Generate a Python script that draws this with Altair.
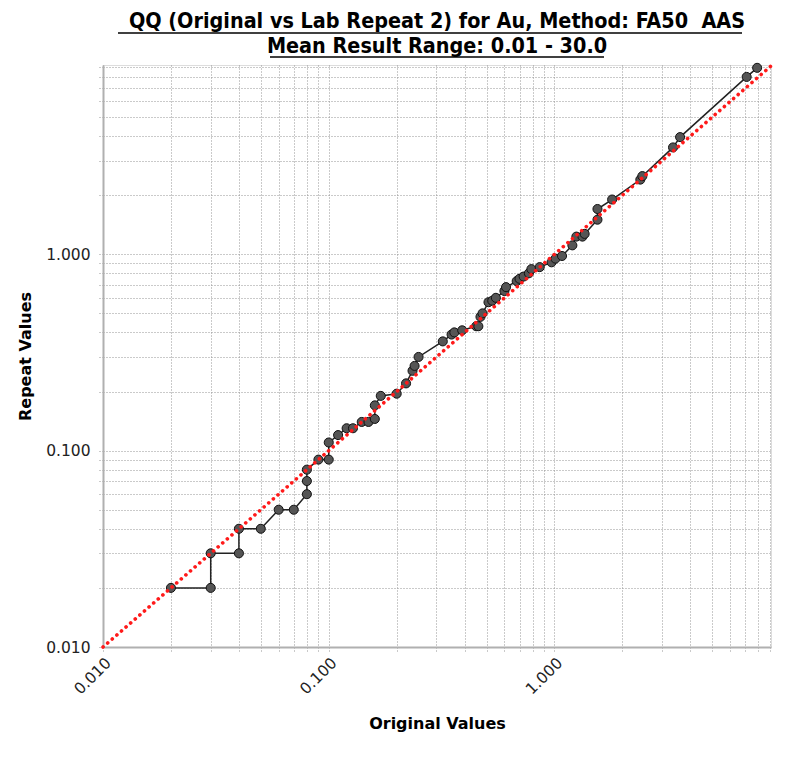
import altair as alt
import pandas as pd

# Quantile pairs (sorted Original vs sorted Repeat)
original = [0.02, 0.03, 0.03, 0.04, 0.04, 0.05, 0.06, 0.07, 0.08, 0.08,
            0.08, 0.09, 0.10, 0.10, 0.11, 0.12, 0.128, 0.14, 0.15, 0.16,
            0.16, 0.17, 0.20, 0.22, 0.235, 0.24, 0.25, 0.32, 0.35, 0.36,
            0.39, 0.45, 0.46, 0.47, 0.48, 0.51, 0.53, 0.55, 0.60, 0.61,
            0.68, 0.70, 0.73, 0.77, 0.79, 0.86, 0.97, 1.01, 1.08, 1.20,
            1.25, 1.33, 1.36, 1.55, 1.55, 1.80, 2.40, 2.45, 3.35, 3.60,
            7.10, 7.90]
repeat = [0.02, 0.02, 0.03, 0.03, 0.04, 0.04, 0.05, 0.05, 0.06, 0.07,
          0.08, 0.09, 0.09, 0.11, 0.12, 0.13, 0.13, 0.14, 0.14, 0.145,
          0.17, 0.19, 0.195, 0.22, 0.255, 0.27, 0.30, 0.36, 0.39, 0.40,
          0.41, 0.43, 0.43, 0.48, 0.50, 0.57, 0.58, 0.60, 0.65, 0.68,
          0.73, 0.75, 0.77, 0.80, 0.84, 0.86, 0.91, 0.95, 0.98, 1.11,
          1.23, 1.23, 1.27, 1.50, 1.70, 1.90, 2.40, 2.50, 3.50, 3.95,
          8.00, 8.90]

tick_values = [0.01, 0.02, 0.03, 0.04, 0.05, 0.06, 0.07, 0.08, 0.09,
               0.1, 0.2, 0.3, 0.4, 0.5, 0.6, 0.7, 0.8, 0.9,
               1, 2, 3, 4, 5, 6, 7, 8, 9]
label_values = [0.01, 0.1, 1]
x_domain = [0.01, 9.1]
y_domain = [0.01, 9.2]
ref_line = [0.01, 9.1]

title_lines = ["QQ (Original vs Lab Repeat 2) for Au, Method: FA50\u00a0 AAS",
               "Mean Result Range: 0.01 - 30.0"]

df = pd.DataFrame({"idx": list(range(len(original))),
                   "Original": original, "Repeat": repeat})
ref_df = pd.DataFrame({"Original": ref_line, "Repeat": ref_line})

label_expr = " || ".join(f"datum.value == {v}" for v in label_values)
label_expr = f"({label_expr}) ? format(datum.value, '.3f') : ''"

FONT = "DejaVu Sans"
TFONT = "DejaVu Sans Condensed, DejaVu Sans"

xaxis = alt.Axis(values=tick_values, labelExpr=label_expr, labelAngle=-45,
                 labelOverlap=False, labelFont=FONT, labelFontSize=15.5,
                 labelColor="#222", labelPadding=2,
                 grid=True, gridColor="#959595", gridDash=[1, 2], gridWidth=1,
                 ticks=True, tickColor="#959595", tickDash=[1, 2], tickSize=6,
                 domainColor="#b0b0b0", domainWidth=2,
                 title="Original Values", titleFont=FONT, titleFontSize=16,
                 titleFontWeight="bold", titleColor="black",
                 titleX=334, titleY=81, titleBaseline="alphabetic")
yaxis = alt.Axis(values=tick_values, labelExpr=label_expr,
                 labelOverlap=False, labelFont=FONT, labelFontSize=15.5,
                 labelColor="#222", labelPadding=7,
                 grid=True, gridColor="#959595", gridDash=[1, 2], gridWidth=1,
                 ticks=True, tickColor="#959595", tickDash=[1, 2], tickSize=6,
                 domainColor="#b0b0b0", domainWidth=2,
                 title="Repeat Values", titleFont=FONT, titleFontSize=16,
                 titleFontWeight="bold", titleColor="black",
                 titleX=-78, titleY=291, titleAngle=-90, titleBaseline="middle",
                 titleAlign="center")

xs = alt.Scale(type="log", domain=x_domain, nice=False)
ys = alt.Scale(type="log", domain=y_domain, nice=False)

line = alt.Chart(df).mark_line(color="#222", strokeWidth=1.5).encode(
    x=alt.X("Original:Q", scale=xs, axis=xaxis),
    y=alt.Y("Repeat:Q", scale=ys, axis=yaxis),
    order="idx:Q",
)
pts = alt.Chart(df).mark_circle(size=82, color="#555555", opacity=1,
                                stroke="#111111", strokeWidth=1).encode(
    x="Original:Q", y="Repeat:Q",
)
ref = alt.Chart(ref_df).mark_line(color="#ff1a1a", strokeWidth=3.6,
                                  strokeDash=[0.1, 6], strokeCap="round").encode(
    x="Original:Q", y="Repeat:Q",
)

u_df = pd.DataFrame({"a": [0]})
underline1 = alt.Chart(u_df).mark_rule(color="black", strokeWidth=1.5).encode(
    x=alt.value(15), x2=alt.value(639), y=alt.value(-32))
underline2 = alt.Chart(u_df).mark_rule(color="black", strokeWidth=1.5).encode(
    x=alt.value(167), x2=alt.value(501), y=alt.value(-8))

chart = alt.layer(line, pts, ref, underline1, underline2).properties(
    width=668, height=582,
    title=alt.TitleParams(text=title_lines, anchor="middle", font=TFONT,
                          fontSize=21.4, fontWeight="bold", color="black",
                          lineHeight=25, offset=12, dy=37, frame="group"),
    autosize=alt.AutoSizeParams(type="none"),
    padding={"left": 95, "top": 57, "right": 30, "bottom": 120},
).configure_view(stroke="#b0b0b0", strokeWidth=2).configure(background="white")

chart.save("out.html", embed_options={"renderer": "svg", "actions": False})
